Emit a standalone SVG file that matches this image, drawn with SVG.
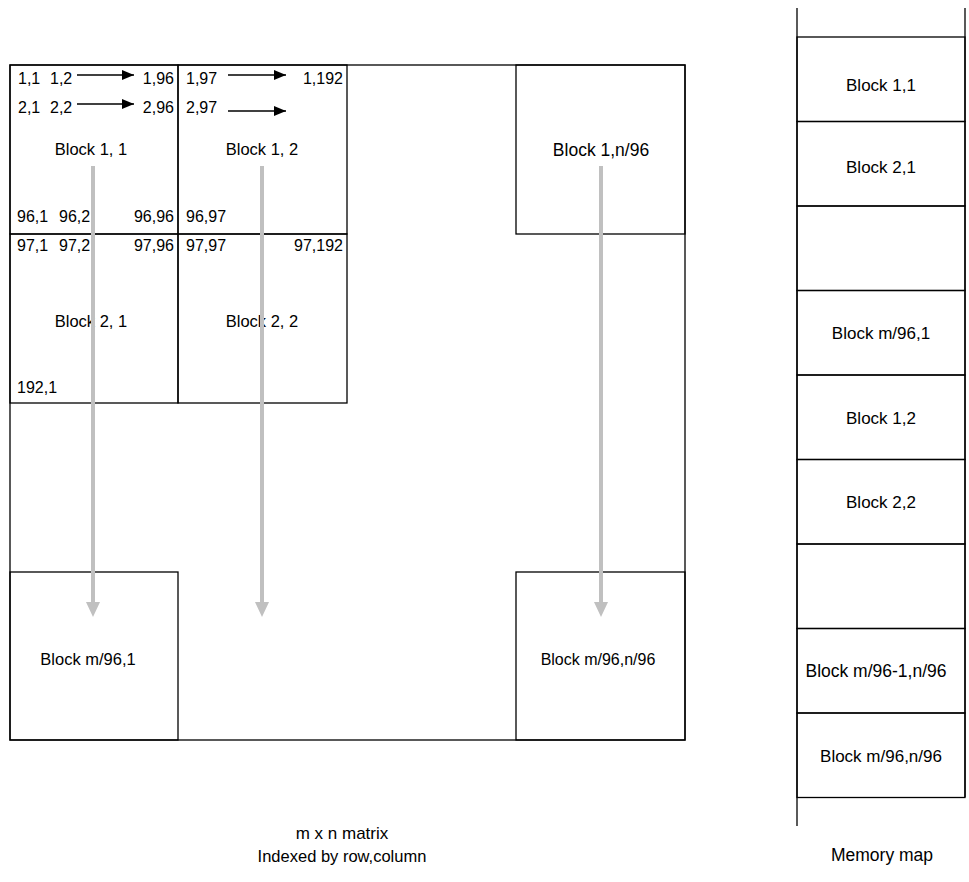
<svg xmlns="http://www.w3.org/2000/svg" width="969" height="882" viewBox="0 0 969 882">
<style>
.b{fill:none;stroke:#000;stroke-width:1.3}
.t{font-family:"Liberation Sans",Arial,sans-serif;font-size:16px;fill:#000}
.m{font-size:17px}
.c{text-anchor:middle}
.e{text-anchor:end}
.g{stroke:#c0c0c0;stroke-width:4;fill:none}
.k{stroke:#000;stroke-width:1.3;fill:none}
</style>
<defs>
<marker id="bh" markerWidth="12" markerHeight="10" refX="12" refY="5" orient="auto" markerUnits="userSpaceOnUse"><path d="M0,0 L12,5 L0,10 Z" fill="#000"/></marker>
</defs>
<rect x="0" y="0" width="969" height="882" fill="#fff"/>
<g id="matrix">
<rect class="b" x="10" y="65" width="675" height="675"/>
</g>
<g id="block11">
<rect class="b" x="10" y="65" width="168" height="169"/>
<text class="t" x="18" y="84">1,1</text>
<text class="t" x="50" y="84">1,2</text>
<text class="t e" x="174" y="84">1,96</text>
<text class="t" x="18" y="113">2,1</text>
<text class="t" x="50" y="113">2,2</text>
<text class="t e" x="174" y="113">2,96</text>
<text class="t c" x="91" y="155" style="font-size:16.5px">Block 1, 1</text>
<text class="t" x="17" y="222">96,1</text>
<text class="t" x="59" y="222">96,2</text>
<text class="t e" x="174" y="222">96,96</text>
</g>
<g id="block12">
<rect class="b" x="178" y="65" width="169" height="169"/>
<text class="t" x="186" y="84">1,97</text>
<text class="t e" x="343" y="84">1,192</text>
<text class="t" x="186" y="113">2,97</text>
<text class="t c" x="262" y="155" style="font-size:16.5px">Block 1, 2</text>
<text class="t" x="186" y="222">96,97</text>
</g>
<g id="block21">
<rect class="b" x="10" y="234" width="168" height="169"/>
<text class="t" x="17" y="251">97,1</text>
<text class="t" x="59" y="251">97,2</text>
<text class="t e" x="174" y="251">97,96</text>
<text class="t c" x="91" y="327" style="font-size:16.5px">Block 2, 1</text>
<text class="t" x="17" y="393">192,1</text>
</g>
<g id="block22">
<rect class="b" x="178" y="234" width="169" height="169"/>
<text class="t" x="186" y="251">97,97</text>
<text class="t e" x="343" y="251">97,192</text>
<text class="t c" x="262" y="327" style="font-size:16.5px">Block 2, 2</text>
</g>
<g id="block1n">
<rect class="b" x="516" y="65" width="169" height="169"/>
<text class="t c" x="601" y="156" style="font-size:17.5px">Block 1,n/96</text>
</g>
<g id="blockm1">
<rect class="b" x="10" y="572" width="168" height="168"/>
<text class="t c" x="88" y="665" style="font-size:16.5px">Block m/96,1</text>
</g>
<g id="blockmn">
<rect class="b" x="516" y="572" width="169" height="168"/>
<text class="t c" x="598" y="665">Block m/96,n/96</text>
</g>
<g id="connectors">
<line class="k" x1="77" y1="75" x2="134" y2="75" marker-end="url(#bh)"/>
<line class="k" x1="77" y1="104" x2="134" y2="104" marker-end="url(#bh)"/>
<line class="k" x1="228" y1="75" x2="286" y2="75" marker-end="url(#bh)"/>
<line class="k" x1="228" y1="111" x2="286" y2="111" marker-end="url(#bh)"/>
<line class="g" x1="93" y1="166" x2="93" y2="603"/>
<path d="M86,602 L100,602 L93,617 Z" fill="#c0c0c0"/>
<line class="g" x1="262" y1="166" x2="262" y2="603"/>
<path d="M255,602 L269,602 L262,617 Z" fill="#c0c0c0"/>
<line class="g" x1="601" y1="166" x2="601" y2="603"/>
<path d="M594,602 L608,602 L601,617 Z" fill="#c0c0c0"/>
</g>
<g id="memmap">
<line class="k" x1="797" y1="8" x2="797" y2="826"/>
<line class="k" x1="965" y1="8" x2="965" y2="797"/>
</g>
<g id="mem1"><rect class="b" x="797" y="37" width="168" height="84.5"/><text class="t c m" x="881" y="91">Block 1,1</text></g>
<g id="mem2"><rect class="b" x="797" y="121.5" width="168" height="84.5"/><text class="t c m" x="881" y="173">Block 2,1</text></g>
<g id="mem3"><rect class="b" x="797" y="206" width="168" height="84.5"/></g>
<g id="mem4"><rect class="b" x="797" y="290.5" width="168" height="84.5"/><text class="t c m" x="881" y="339">Block m/96,1</text></g>
<g id="mem5"><rect class="b" x="797" y="375" width="168" height="84.5"/><text class="t c m" x="881" y="424">Block 1,2</text></g>
<g id="mem6"><rect class="b" x="797" y="459.5" width="168" height="84.5"/><text class="t c m" x="881" y="508">Block 2,2</text></g>
<g id="mem7"><rect class="b" x="797" y="544" width="168" height="84.5"/></g>
<g id="mem8"><rect class="b" x="797" y="628.5" width="168" height="84.5"/><text class="t c" x="876" y="677" style="font-size:17.5px">Block m/96-1,n/96</text></g>
<g id="mem9"><rect class="b" x="797" y="713" width="168" height="84.5"/><text class="t c m" x="881" y="762">Block m/96,n/96</text></g>
<g id="captions">
<text class="t c" x="342" y="839" style="font-size:17px">m x n matrix</text>
<text class="t c" x="342" y="862" style="font-size:16.5px">Indexed by row,column</text>
<text class="t c" x="882" y="861" style="font-size:17.5px">Memory map</text>
</g>
</svg>
